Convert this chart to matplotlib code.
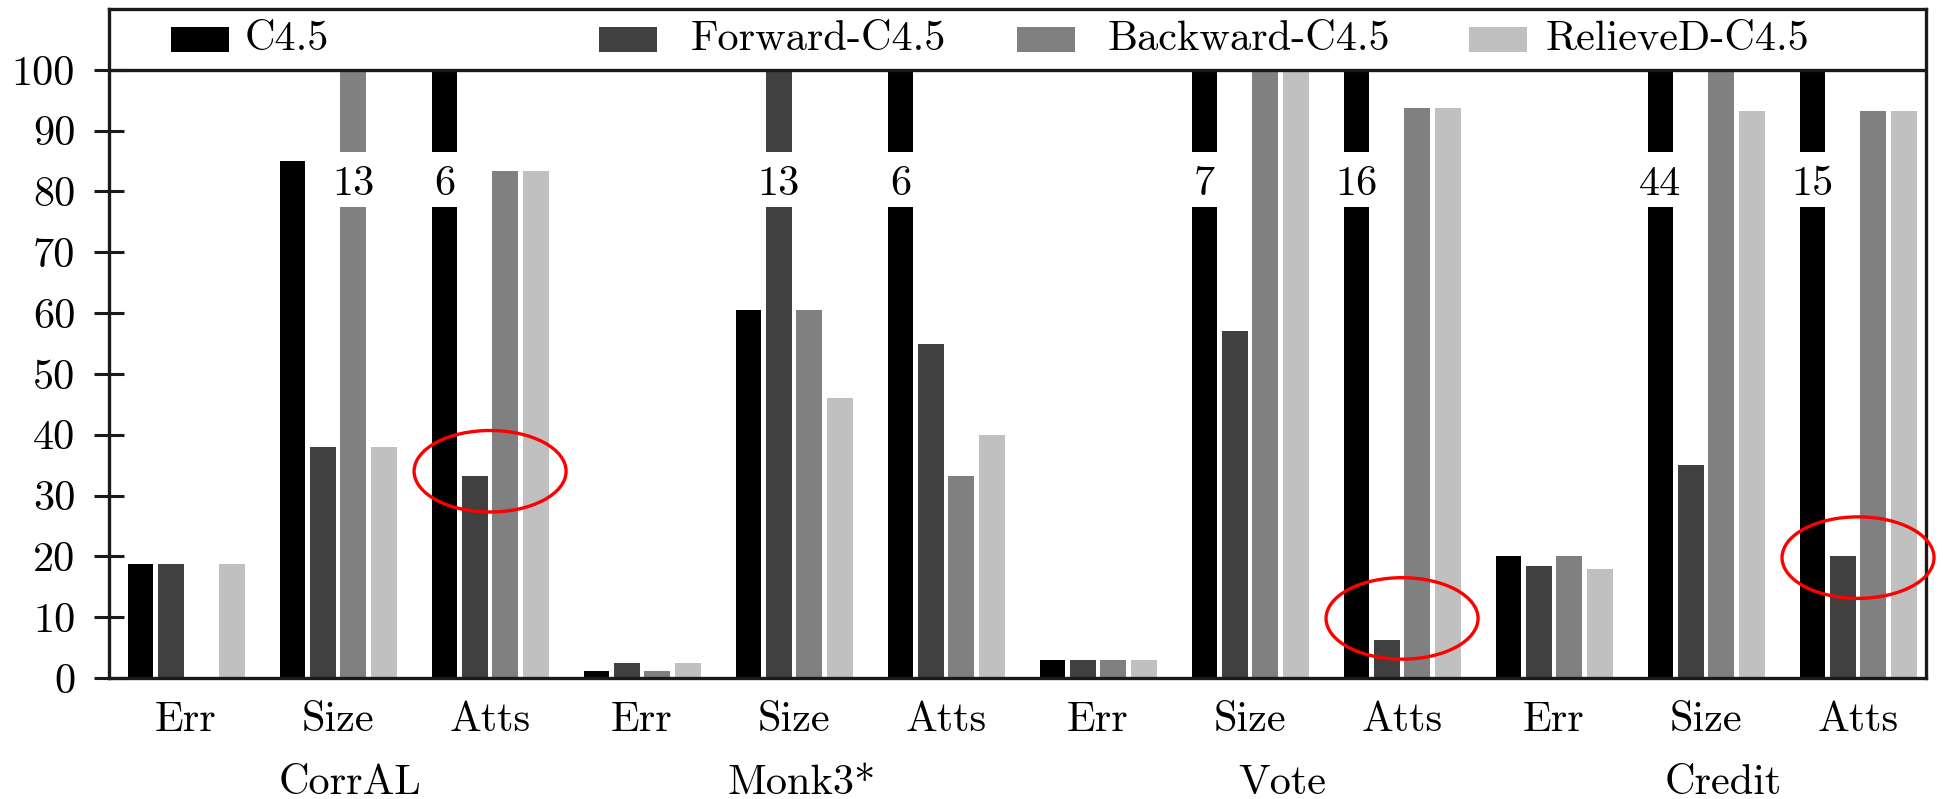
import matplotlib
matplotlib.use("Agg")
import matplotlib.pyplot as plt
from matplotlib.patches import Ellipse, Rectangle
import numpy as np

plt.rcParams['font.family'] = ['cmr10', 'DejaVu Serif']
plt.rcParams['mathtext.fontset'] = 'cm'
plt.rcParams['axes.unicode_minus'] = False

# ---------------- data ----------------
metrics = ["Err", "Size", "Atts"] * 4
datasets = ["CorrAL", "Monk3*", "Vote", "Credit"]
series_names = ["C4.5", "Forward-C4.5", "Backward-C4.5", "RelieveD-C4.5"]
c45      = [18.75, 85.0, 100.0, 1.2, 60.5, 100.0, 3.0, 100.0, 100.0, 20.0, 100.0, 100.0]
forward  = [18.75, 38.0, 33.3, 2.5, 100.0, 55.0, 3.0, 57.0, 6.25, 18.5, 35.0, 20.0]
backward = [0.0, 100.0, 83.3, 1.2, 60.5, 33.3, 3.0, 100.0, 93.75, 20.0, 100.0, 93.3]
relieved = [18.75, 38.0, 83.3, 2.5, 46.0, 40.0, 3.0, 100.0, 93.75, 18.0, 93.3, 93.3]
# bars cut at 100 showing the raw value: (group index, series index, label)
broken_groups = [1, 2, 4, 5, 7, 8, 10, 11]
broken_series = [2, 0, 1, 0, 0, 0, 0, 0]
broken_labels = ["13", "6", "13", "6", "7", "16", "44", "15"]
# highlighted groups (red ellipses)
highlight_groups = [2, 8, 11]
highlight_levels = [34.0, 9.8, 19.8]
yticks = list(range(0, 101, 10))

# ---------------- style / layout ----------------
colors = ["#000000", "#404040", "#808080", "#c0c0c0"]
frame_col = "#1a1a1a"
fs = 30.5
bar_w = 0.17
pitch = 0.2
dataset_label_x = [1.08, 4.05, 7.21, 10.11]

fig = plt.figure(figsize=(19.43, 7.99), dpi=100)
ax = fig.add_axes([0.0562, 0.1514, 0.9348, 0.8373])

x = np.arange(len(metrics))
all_series = [c45, forward, backward, relieved]
offsets = [(i - 1.5) * pitch for i in range(4)]
for vals, off, col in zip(all_series, offsets, colors):
    ax.bar(x + off, vals, width=bar_w, color=col, edgecolor='none', zorder=2)

# gaps with the raw value
gap_lo, gap_hi = 77.5, 86.5
for g, s, lab in zip(broken_groups, broken_series, broken_labels):
    xc = x[g] + offsets[s]
    ax.bar(xc, gap_hi - gap_lo, bottom=gap_lo, width=bar_w + 0.02,
           color='white', edgecolor='none', zorder=3)
    ax.text(xc, 79.4, lab, ha='center', va='baseline', fontsize=fs, zorder=4)

ax.set_xlim(-0.506, 11.444)
ax.set_ylim(0, 110)
ax.axhline(100, color=frame_col, lw=2.4, zorder=5)

for sp in ax.spines.values():
    sp.set_linewidth(2.4)
    sp.set_color(frame_col)
    sp.set_zorder(6)

ax.set_yticks(yticks)
ax.set_yticklabels([str(t) for t in yticks], fontsize=fs)
ax.tick_params(axis='y', direction='inout', length=21, width=2.2,
               color=frame_col, pad=14)
ax.set_xticks(x)
ax.set_xticklabels(metrics, fontsize=fs)
ax.tick_params(axis='x', length=0, pad=17)

for name, lx in zip(datasets, dataset_label_x):
    ax.text(lx, -0.157, name, transform=ax.get_xaxis_transform(),
            ha='center', va='center', fontsize=fs)

# legend row inside the top band
patch_x = [0.0341, 0.2696, 0.4997, 0.7488]
text_x = [0.0744, 0.3201, 0.5495, 0.7911]
trans = ax.get_yaxis_transform()
for name, col, px, tx in zip(series_names, colors, patch_x, text_x):
    ax.add_patch(Rectangle((px, 103.0), 0.032, 4.0, transform=trans,
                           facecolor=col, edgecolor='none', clip_on=False, zorder=7))
    ax.text(tx, 105.0, name, transform=trans, ha='left', va='center',
            fontsize=fs, zorder=7)

for g, yc in zip(highlight_groups, highlight_levels):
    ax.add_patch(Ellipse((x[g], yc), 1.0, 13.4, fill=False, edgecolor='#ff0000',
                         lw=2.4, clip_on=False, zorder=8))

fig.savefig("out.png", dpi=100)
